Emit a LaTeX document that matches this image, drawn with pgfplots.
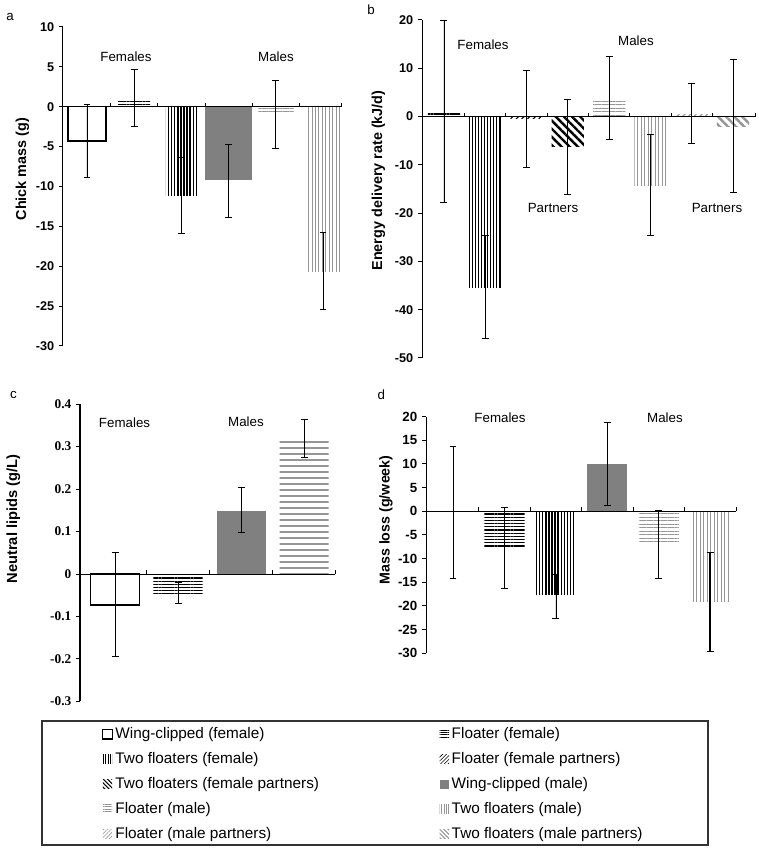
\documentclass[border=0pt]{standalone}
\usepackage{fontspec}
\setmainfont{Liberation Sans}
\newfontfamily\timesfont{Liberation Serif}
\usepackage{pgfplots}
\pgfplotsset{compat=1.18}
\usetikzlibrary{patterns.meta}

\definecolor{barGray}{RGB}{128,128,128}
\definecolor{lineGray}{RGB}{150,150,150}
\newcommand{\fsize}[1]{\fontsize{#1}{#1}\selectfont}

% bar fills, one per group
\tikzset{
  wingF/.style={fill=white, draw=black, line width=1.1pt},
  floatF/.style={draw=none, pattern={Lines[angle=0,distance=2.4pt,line width=0.9pt]}, pattern color=black},
  twoF/.style={draw=none, pattern={Lines[angle=90,distance=2.3pt,line width=1pt]}, pattern color=black},
  floatFP/.style={draw=none, pattern={Lines[angle=45,distance=3pt,line width=0.8pt]}, pattern color=black},
  twoFP/.style={draw=none, pattern={Lines[angle=-45,distance=4.3pt,line width=1.8pt]}, pattern color=black},
  wingM/.style={draw=none, fill=barGray},
  floatM/.style={draw=none, pattern={Lines[angle=0,distance=2.6pt,line width=0.7pt]}, pattern color=lineGray},
  twoM/.style={draw=none, pattern={Lines[angle=90,distance=2.6pt,line width=0.7pt]}, pattern color=lineGray},
  floatMP/.style={draw=none, pattern={Lines[angle=45,distance=3pt,line width=0.8pt]}, pattern color=lineGray},
  twoMP/.style={draw=none, pattern={Lines[angle=-45,distance=4.3pt,line width=1.8pt]}, pattern color=lineGray},
  grp/.style={font=\fsize{10}, text height=7.2pt, text depth=0pt},
  ylab/.style={rotate=90, font=\bfseries\fsize{#1}},
}

\pgfplotsset{
  panel/.style={
    scale only axis, anchor=south west,
    axis y line=left, axis x line=none,
    y axis line style={-, line width=0.75pt},
    ytick style={black, line width=0.75pt},
    tick align=outside, major tick length=3pt,
    ybar, bar shift=0pt, bar width=0.78,
    /pgf/number format/assume math mode=true,
    scaled y ticks=false, clip=false,
    error bars/y dir=both, error bars/y explicit,
    error bars/error bar style={black, line width=0.6pt},
    error bars/error mark options={black, line width=0.6pt, mark size=2.6pt, rotate=90},
  },
}

\begin{document}
\begin{tikzpicture}
\path[use as bounding box] (0,0) rectangle (569.25pt,637.5pt);

% a: chick mass
\begin{axis}[panel, at={(47.25pt,378pt)}, width=208.5pt, height=239.25pt,
  xmin=-0.508, xmax=5.381, ymin=-30, ymax=10, ytick={-30,-25,...,10},
  yticklabel style={font=\bfseries\fsize{9.5}}]
\addplot[wingF, bar width=0.8] coordinates {(0,-4.3) += (0,4.6) -= (0,4.5)};
\addplot[floatF, bar width=0.68] coordinates {(1,0.9) += (0,3.8) -= (0,3.4)};
\addplot[twoF, bar width=0.66] coordinates {(2,-11.1) += (0,4.8) -= (0,4.8)};
\addplot[wingM, bar width=1.0] coordinates {(3,-9.2) += (0,4.5) -= (0,4.7)};
\addplot[floatM, bar width=0.76] coordinates {(4,-0.9) += (0,4.2) -= (0,4.3)};
\addplot[twoM, bar width=0.72] coordinates {(5,-20.6) += (0,4.9) -= (0,4.8)};
\draw[line width=0.75pt] ({rel axis cs:0,0}|-{axis cs:0,0}) -- ({rel axis cs:1,0}|-{axis cs:0,0});
\pgfplotsinvokeforeach{0.5,1.5,2.5,3.5,4.5,5.381}{\draw[line width=0.6pt] (axis cs:#1,0) -- ++(0pt,3pt);}
\end{axis}

% b: energy delivery rate
\begin{axis}[panel, at={(316.5pt,369pt)}, width=249.75pt, height=253.5pt,
  xmin=-0.53, xmax=7.53, ymin=-50, ymax=20, ytick={-50,-40,...,20},
  yticklabel style={font=\bfseries\fsize{9.5}}]
\addplot[floatF] coordinates {(0,0.7) += (0,19.3) -= (0,18.5)};
\addplot[twoF] coordinates {(1,-35.5) += (0,10.9) -= (0,10.5)};
\addplot[floatFP] coordinates {(2,-0.5) += (0,10.1) -= (0,10.0)};
\addplot[twoFP] coordinates {(3,-6.3) += (0,9.8) -= (0,9.8)};
\addplot[floatM] coordinates {(4,3.8) += (0,8.7) -= (0,8.6)};
\addplot[twoM] coordinates {(5,-14.2) += (0,10.6) -= (0,10.4)};
\addplot[floatMP] coordinates {(6,0.5) += (0,6.3) -= (0,6.0)};
\addplot[twoMP] coordinates {(7,-2.0) += (0,13.8) -= (0,13.7)};
\draw[line width=0.75pt] ({rel axis cs:0,0}|-{axis cs:0,0}) -- ({rel axis cs:1,0}|-{axis cs:0,0});
\pgfplotsinvokeforeach{0.5,1.5,2.5,3.5,4.5,5.5,6.5,7.53}{\draw[line width=0.6pt] (axis cs:#1,0) -- ++(0pt,3pt);}
\end{axis}

% c: neutral lipids
\begin{axis}[panel, at={(60pt,111.375pt)}, width=191.25pt, height=223.125pt,
  xmin=-0.556, xmax=3.49, ymin=-0.3, ymax=0.4,
  ytick={-0.3,-0.2,-0.1,0,0.1,0.2,0.3,0.4},
  yticklabel style={font=\timesfont\bfseries\fsize{10}}]
\addplot[wingF] coordinates {(0,-0.073) += (0,0.123) -= (0,0.122)};
\addplot[floatF] coordinates {(1,-0.045) += (0,0.025) -= (0,0.025)};
\addplot[wingM] coordinates {(2,0.148) += (0,0.055) -= (0,0.051)};
\addplot[floatM, pattern={Lines[angle=0,distance=4.5pt,line width=0.8pt]}] coordinates {(3,0.318) += (0,0.046) -= (0,0.043)};
\draw[line width=0.75pt] ({rel axis cs:0,0}|-{axis cs:0,0}) -- ({rel axis cs:1,0}|-{axis cs:0,0});
\pgfplotsinvokeforeach{0.5,1.5,2.5,3.49}{\draw[line width=0.6pt] (axis cs:#1,0) -- ++(0pt,3pt);}
\end{axis}

% d: mass loss
\begin{axis}[panel, at={(319.5pt,147.6pt)}, width=232.5pt, height=177.4pt,
  xmin=-0.525, xmax=5.5, ymin=-30, ymax=20, ytick={-30,-25,...,20},
  yticklabel style={font=\bfseries\fsize{10}}]
\addplot[wingF] coordinates {(0,0) += (0,13.7) -= (0,14.2)};
\addplot[floatF] coordinates {(1,-7.6) += (0,8.45) -= (0,8.8)};
\addplot[twoF] coordinates {(2,-17.6) += (0,4.3) -= (0,5.0)};
\addplot[wingM] coordinates {(3,9.9) += (0,8.9) -= (0,8.6)};
\addplot[floatM] coordinates {(4,-6.7) += (0,6.8) -= (0,7.5)};
\addplot[twoM, error bars/error bar style={line width=1.2pt}] coordinates {(5,-19.1) += (0,10.4) -= (0,10.6)};
\draw[line width=0.75pt] ({rel axis cs:0,0}|-{axis cs:0,0}) -- ({rel axis cs:1,0}|-{axis cs:0,0});
\pgfplotsinvokeforeach{0.5,1.5,2.5,3.5,4.5,5.5}{\draw[line width=0.6pt] (axis cs:#1,0) -- ++(0pt,3pt);}
\end{axis}

% shared legend
\begin{axis}[hide axis, scale only axis, anchor=south west, at={(31.5pt,3.75pt)},
  width=499.5pt, height=93pt, xmin=0, xmax=1, ymin=0, ymax=1,
  legend columns=2, legend cell align=left,
  legend image code/.code={\path[#1] (0pt,-3.5pt) rectangle (7pt,3.5pt);},
  legend style={draw=none, fill=none, at={(0.09,0.97)}, anchor=north west,
    inner sep=0pt, row sep=4.75pt, font=\fsize{11.5},
    nodes={text height=9pt, text depth=3pt, inner ysep=1pt, inner xsep=2pt},
    /tikz/every even column/.append style={column sep=88.5pt}}]
\addplot[draw=none, forget plot] coordinates {(0,0)};
\addlegendimage{wingF, line width=0.9pt}\addlegendentry{Wing-clipped (female)}
\addlegendimage{floatF, pattern={Lines[angle=0,distance=1.8pt,line width=0.6pt]}}\addlegendentry{Floater (female)}
\addlegendimage{twoF, pattern={Lines[angle=90,distance=1.8pt,line width=0.6pt]}}\addlegendentry{Two floaters (female)}
\addlegendimage{floatFP, pattern={Lines[angle=45,distance=2pt,line width=0.5pt]}}\addlegendentry{Floater (female partners)}
\addlegendimage{twoFP, pattern={Lines[angle=-45,distance=2.2pt,line width=0.8pt]}}\addlegendentry{Two floaters (female partners)}
\addlegendimage{wingM}\addlegendentry{Wing-clipped (male)}
\addlegendimage{floatM, pattern={Lines[angle=0,distance=1.8pt,line width=0.5pt]}}\addlegendentry{Floater (male)}
\addlegendimage{twoM, pattern={Lines[angle=90,distance=1.8pt,line width=0.5pt]}}\addlegendentry{Two floaters (male)}
\addlegendimage{floatMP, pattern={Lines[angle=45,distance=2pt,line width=0.5pt]}}\addlegendentry{Floater (male partners)}
\addlegendimage{twoMP, pattern={Lines[angle=-45,distance=2.2pt,line width=0.8pt]}}\addlegendentry{Two floaters (male partners)}
\end{axis}
\draw[line width=1.2pt, black!80] (31.5pt,3.75pt) rectangle (531pt,96.75pt);

% panel letters
\node[font=\fsize{10}] at (7.5pt,624.4pt) {a};
\node[font=\fsize{10}] at (278.25pt,630pt) {b};
\node[font=\fsize{10}] at (10pt,341.25pt) {c};
\node[font=\fsize{10}] at (286pt,341.25pt) {d};

% axis titles
\node[ylab=10.8] at (16.9pt,510.75pt) {Chick mass (g)};
\node[ylab=10.8] at (283.9pt,502.1pt) {Energy delivery rate (kJ/d)};
\node[ylab=11] at (10.1pt,248.25pt) {Neutral lipids (g/L)};
\node[ylab=10.7] at (289.5pt,247.5pt) {Mass loss (g/week)};

% group labels
\node[grp] at (94.5pt,594.75pt) {Females};
\node[grp] at (207pt,594.75pt) {Males};
\node[grp] at (362.25pt,603.75pt) {Females};
\node[grp] at (477pt,606.75pt) {Males};
\node[grp] at (414.75pt,481.5pt) {Partners};
\node[grp] at (537.75pt,481.5pt) {Partners};
\node[grp] at (93.4pt,320.25pt) {Females};
\node[grp] at (184.5pt,321pt) {Males};
\node[grp] at (375pt,324pt) {Females};
\node[grp] at (498.75pt,324pt) {Males};
\end{tikzpicture}
\end{document}
